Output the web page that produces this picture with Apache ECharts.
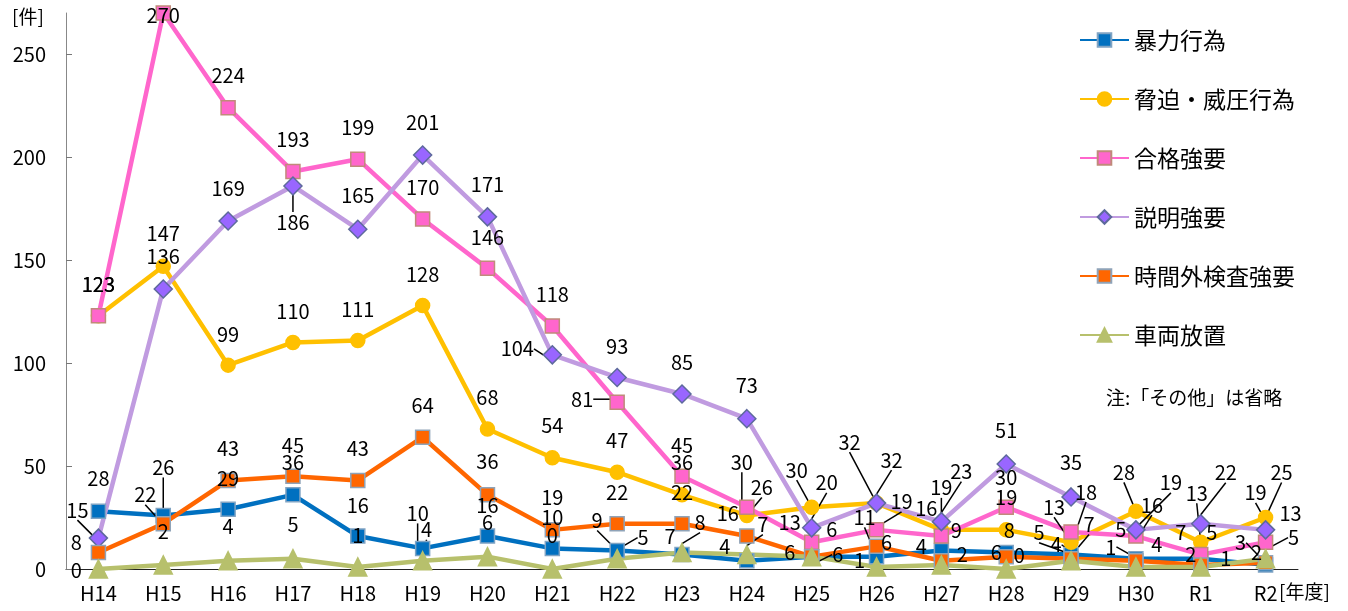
<!DOCTYPE html>
<html><head><meta charset="utf-8">
<script src="https://cdn.jsdelivr.net/npm/echarts@6/dist/echarts.min.js"></script>
<style>html,body{margin:0;padding:0;background:#fff}#c{width:1348px;height:611px}</style>
</head><body><div id="c"></div>
<script>
const categories = ['H14','H15','H16','H17','H18','H19','H20','H21','H22','H23','H24','H25','H26','H27','H28','H29','H30','R1','R2'];
const yTicks = [0, 50, 100, 150, 200, 250];
const seriesNames = ['暴力行為', '脅迫・威圧行為', '合格強要', '説明強要', '時間外検査強要', '車両放置'];
const violence     = [28, 26, 29, 36, 16, 10, 16, 10, 9, 7, 4, 6, 6, 9, 8, 7, 5, 5, 2];
const threat       = [123, 147, 99, 110, 111, 128, 68, 54, 47, 36, 26, 30, 32, 19, 19, 13, 28, 13, 25];
const passForce    = [123, 270, 224, 193, 199, 170, 146, 118, 81, 45, 30, 13, 19, 16, 30, 18, 16, 7, 13];
const explainForce = [15, 136, 169, 186, 165, 201, 171, 104, 93, 85, 73, 20, 32, 23, 51, 35, 19, 22, 19];
const overtime     = [8, 22, 43, 45, 43, 64, 36, 19, 22, 22, 16, 6, 11, 4, 6, 5, 4, 2, 3];
const vehicle      = [0, 2, 4, 5, 1, 4, 6, 0, 5, 8, 7, 6, 1, 2, 0, 4, 1, 1, 5];

// label placement (dx, dy from marker centre, leader flag) — styling only
const labelPlacement = [
  [[0,-33],[0,-48,1],[0,-31],[0,-32],[0,-31],[-5,-35,1],[0,-31],[0,-31],[-20,-30,1],[-12,-18],[-22,-14],[20,-27],[10,-14],[15,-20],[3,-22],[18,-30,1],[-15,-29],[11,-26],[-9,-12]],
  [[0,-31],[0,-33],[0,-31],[0,-31],[0,-31],[0,-31],[0,-32],[0,-32],[0,-32],[0,-32],[15,-28,1],[-15,-37,1],[-27,-61,1],[0,-42,1],[0,-32],[-17,-35,1],[-12,-39,1],[-4,-49,1],[16,-45,1]],
  [[0,-31],[0,2],[0,-32],[0,-32],[0,-32],[0,-32],[0,-31],[0,-32],[-35,-3,1],[0,-31],[-5,-45,1],[-22,-20],[25,-28,1],[-15,-28],[0,-30],[15,-40,1],[16,-31,1],[-20,-22],[25,-29]],
  [[-21,-28,1],[0,-33],[0,-33],[0,36,1],[0,-34],[0,-33],[0,-32],[-35,-6,1],[0,-31],[0,-32],[0,-33],[15,-45,1],[15,-43,1],[20,-50,1],[0,-34],[0,-35],[35,-47,1],[25,-51,1],[-10,-37,1]],
  [[-22,-10],[-18,-29,1],[0,-32],[0,-31],[0,-32],[0,-32],[0,-33],[0,-32],[0,-31],[0,-31],[-19,-23],[-22,-4],[-12,-29,1],[-20,-14],[-10,-4],[-32,-26,1],[21,-16],[-10,-10],[-25,-20,1]],
  [[-22,1],[0,-33],[0,-34],[0,-34],[0,-32],[4,-31,1],[0,-34],[0,-34],[26,-21,1],[18,-30,1],[16,-30,1],[26,-2,1],[-17,-7],[21,-10],[13,-14],[-15,-16,1],[-25,-20,1],[25,-9],[28,-21,1]]
];

const styles = [
  {line:'#0070C0', fill:'#0070C0', border:'#7FA3C3', symbol:'rect', size:14},
  {line:'#FFC000', fill:'#FFC000', border:'#FFC000', symbol:'circle', size:14},
  {line:'#FF66CC', fill:'#FF66CC', border:'#C08A7A', symbol:'rect', size:14},
  {line:'#C09BE0', fill:'#9966FF', border:'#5E6A9C', symbol:'diamond', size:18},
  {line:'#FF6600', fill:'#FF6600', border:'#8FA3B8', symbol:'rect', size:14},
  {line:'#B7C06C', fill:'#B7C06C', border:'#B7C06C', symbol:'triangle', size:18}
];
const values = [violence, threat, passForce, explainForce, overtime, vehicle];
const FONT = '"Noto Sans CJK JP", "Noto Sans", sans-serif';

const series = values.map((vals, si) => ({
  name: seriesNames[si],
  type: 'line',
  clip: false,
  symbol: styles[si].symbol,
  symbolSize: styles[si].size,
  lineStyle: {color: styles[si].line, width: 4.5},
  itemStyle: {color: styles[si].fill, borderColor: styles[si].border, borderWidth: 1.5},
  label: {show: true, color: '#000', fontSize: 20, fontFamily: FONT},
  labelLine: {show: false, length2: 0, smooth: false, lineStyle: {color: '#000', width: 1.5}},
  labelLayout: function (p) {
    const o = labelPlacement[p.seriesIndex][p.dataIndex];
    const cx = p.rect.x + p.rect.width / 2;
    const cy = p.rect.y + p.rect.height / 2;
    return {x: cx + o[0], y: cy + o[1], align: 'center', verticalAlign: 'middle'};
  },
  data: vals.map((v, i) => labelPlacement[si][i][2] ? {value: v, labelLine: {show: true}} : v)
}));

const chart = echarts.init(document.getElementById('c'));
chart.setOption({
  animation: false,
  textStyle: {fontFamily: FONT},
  grid: {left: 66, right: 50, top: 13, bottom: 42, containLabel: false},
  legend: {
    orient: 'vertical', left: 1079, top: 28, padding: 0, itemWidth: 49, itemHeight: 17, itemGap: 35,
    textStyle: {fontSize: 23, lineHeight: 24, color: '#000', fontFamily: FONT},
    data: seriesNames
  },
  xAxis: {
    type: 'category', data: categories, boundaryGap: true,
    axisLine: {lineStyle: {color: '#222', width: 1}},
    axisTick: {inside: true, length: 5, alignWithLabel: false, interval: 0, lineStyle: {color: '#777'}},
    axisLabel: {fontSize: 20, color: '#000', margin: 14, interval: 0, fontFamily: FONT}
  },
  yAxis: {
    type: 'value', min: 0, max: 270, interval: 50,
    splitLine: {show: false},
    axisLine: {show: true, lineStyle: {color: '#888'}},
    axisTick: {show: true, inside: true, length: 6, lineStyle: {color: '#777'}, customValues: yTicks},
    axisLabel: {fontSize: 20, color: '#000', margin: 20, fontFamily: FONT, customValues: yTicks}
  },
  graphic: [
    {type: 'text', left: 12, top: 7, style: {text: '[件]', fontSize: 19, fill: '#000', fontFamily: FONT}},
    {type: 'text', left: 1279, top: 582, style: {text: '[年度]', fontSize: 19, fill: '#000', fontFamily: FONT}},
    {type: 'text', left: 1106, top: 388, style: {text: '注:「その他」は省略', fontSize: 19, fill: '#000', fontFamily: FONT}}
  ],
  series: series
});
</script></body></html>
